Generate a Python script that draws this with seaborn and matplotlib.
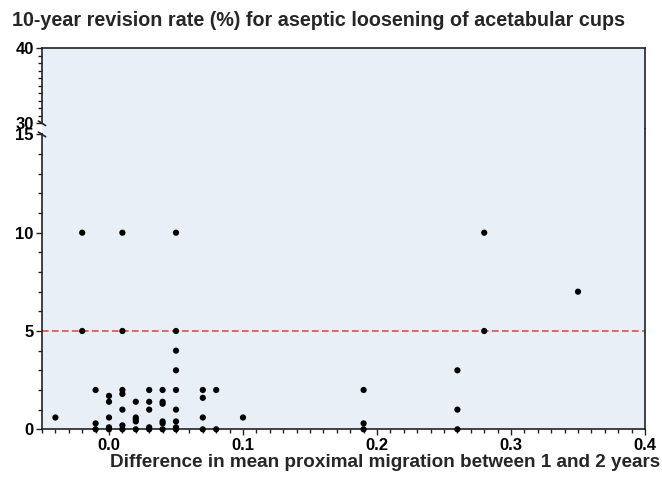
import numpy as np
import pandas as pd
import matplotlib
matplotlib.use("Agg")
import matplotlib.pyplot as plt
from matplotlib.ticker import MultipleLocator
import seaborn as sns

# migration difference (mm) between 1 and 2 years, and 10-year revision rate (%)
migration = [-0.04,
             -0.02, -0.02,
             -0.01, -0.01, -0.01,
             0.00, 0.00, 0.00, 0.00, 0.00,
             0.01, 0.01, 0.01, 0.01, 0.01, 0.01, 0.01,
             0.02, 0.02, 0.02, 0.02, 0.02,
             0.03, 0.03, 0.03, 0.03, 0.03,
             0.04, 0.04, 0.04, 0.04, 0.04, 0.04,
             0.05, 0.05, 0.05, 0.05, 0.05, 0.05, 0.05, 0.05, 0.05,
             0.07, 0.07, 0.07, 0.07,
             0.08, 0.08,
             0.10,
             0.19, 0.19, 0.19,
             0.26, 0.26, 0.26,
             0.28, 0.28,
             0.35]
revision = [0.6,
            10, 5,
            2, 0.3, 0,
            1.7, 1.4, 0.6, 0.1, 0,
            10, 5, 2, 1.8, 1.0, 0.2, 0,
            1.4, 0.6, 0.5, 0.4, 0,
            2, 1.4, 1.0, 0.1, 0,
            2, 1.4, 1.3, 0.4, 0.3, 0,
            10, 5, 4, 3, 2, 1, 0.4, 0.1, 0,
            2, 1.6, 0.6, 0,
            2, 0,
            0.6,
            2, 0.3, 0,
            3, 1, 0,
            10, 5,
            7]
threshold = 5
title = "10-year revision rate (%) for aseptic loosening of acetabular cups"
xlabel = "Difference in mean proximal migration between 1 and 2 years"

df = pd.DataFrame({"migration": migration, "revision": revision})

sns.set_theme(style="ticks")
plt.rcParams["font.family"] = ["Liberation Sans", "DejaVu Sans"]

bg = "#e8eff7"
W, H = 662, 478
fig = plt.figure(figsize=(W / 100, H / 100), dpi=100)

left, right = 42 / W, 645 / W
ybot, ysplit, ytop = 429.3, 128.5, 48.3
ax_top = fig.add_axes([left, 1 - ysplit / H, right - left, (ysplit - ytop) / H])
ax = fig.add_axes([left, 1 - ybot / H, right - left, (ybot - ysplit) / H])

for a in (ax_top, ax):
    a.set_facecolor(bg)
    for s in a.spines.values():
        s.set_color("#222222")
        s.set_linewidth(1.2)
    a.tick_params(axis="both", which="both", direction="out", color="#222222",
                  labelsize=12, labelcolor="black", pad=2)
    a.tick_params(which="major", length=4, width=1)
    a.tick_params(which="minor", length=3, width=1)

# top part 30-40
ax_top.set_ylim(40 - (ysplit - ytop) / 7.5, 40)
ax_top.set_xlim(-0.05, 0.4)
ax_top.set_yticks([30, 40])
ax_top.yaxis.set_minor_locator(MultipleLocator(1))
ax_top.spines["bottom"].set_visible(False)
ax_top.spines["left"].set_bounds(30, 40)
ax_top.tick_params(axis="x", which="both", bottom=False, labelbottom=False)

# bottom part 0-15
ax.set_ylim(0, (ybot - ysplit) / 19.66)
ax.set_xlim(-0.05, 0.4)
ax.spines["top"].set_visible(False)
ax.spines["left"].set_bounds(0, 15)
ax.set_yticks([0, 5, 10, 15])
ax.yaxis.set_minor_locator(MultipleLocator(1))
ax.set_xticks([0.0, 0.1, 0.2, 0.3, 0.4])
ax.set_xticklabels(["0.0", "0.1", "0.2", "0.3", "0.4"])
ax.xaxis.set_minor_locator(MultipleLocator(0.01))

for a in (ax_top, ax):
    for lab in a.get_xticklabels() + a.get_yticklabels():
        lab.set_fontweight("bold")

ax.axhline(threshold, color="#d9534a", linestyle=(0, (4, 2)), linewidth=1.2, zorder=2)
sns.scatterplot(data=df, x="migration", y="revision", ax=ax, color="black",
                s=20, edgecolor="none", clip_on=False, zorder=5)
ax.set_xlabel("")
ax.set_ylabel("")

# break marks on the left spine
for a, yv, dy in ((ax_top, 30, 0.3), (ax, 15, 0.12)):
    a.plot([-0.006, 0.006], [yv + dy, yv - dy], transform=a.get_yaxis_transform(),
           color="#222222", linewidth=1.2, clip_on=False)

fig.text(12 / W, 1 - 26 / H, title, fontsize=14.2, fontweight="bold",
         ha="left", va="baseline")
fig.text(660 / W, 1 - 467 / H, xlabel, fontsize=13.6, fontweight="bold",
         ha="right", va="baseline")

fig.savefig("out.png", dpi=100)
